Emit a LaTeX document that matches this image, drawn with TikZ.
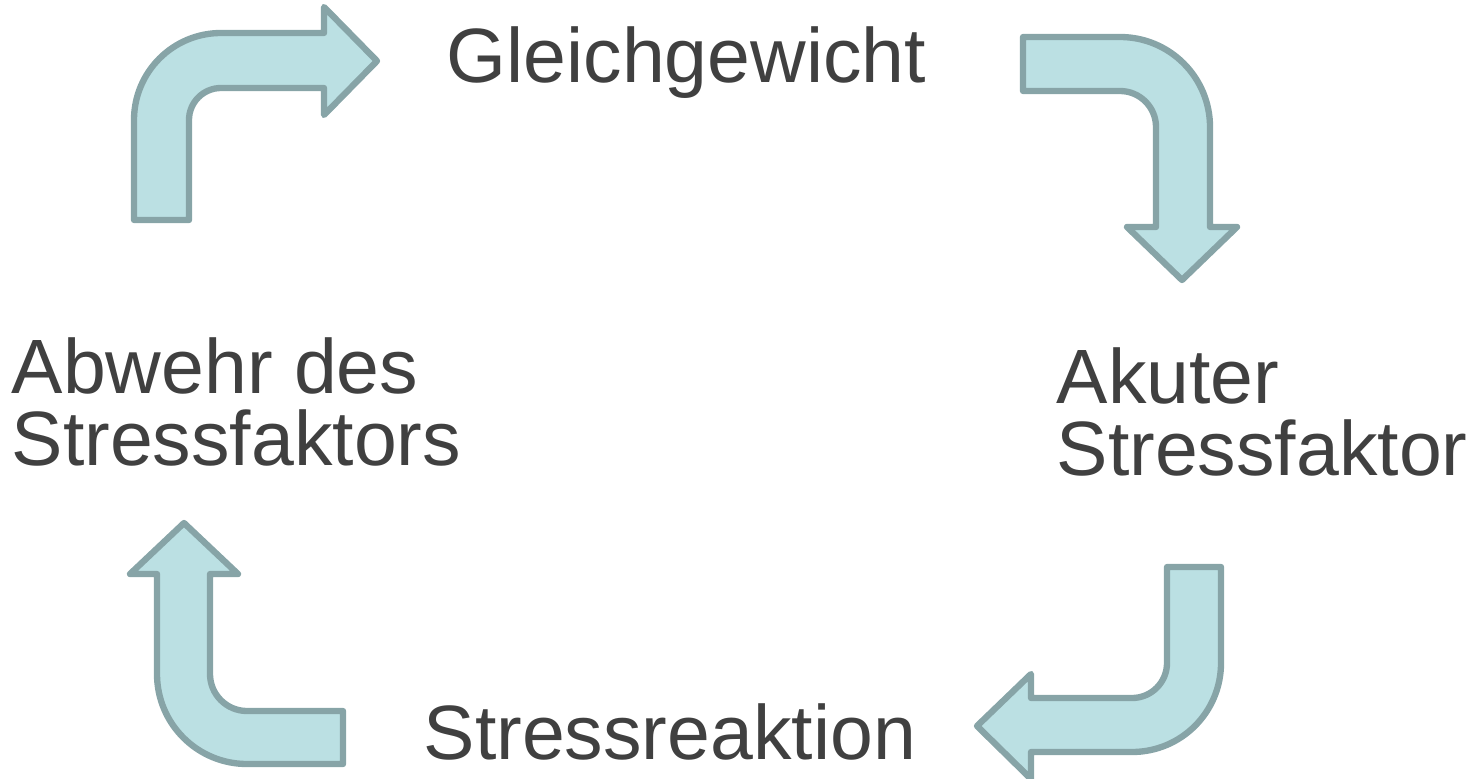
\documentclass[tikz,border=0pt]{standalone}
\usepackage{fontspec}
\setmainfont{Liberation Sans}
\usepackage{tikz}

\definecolor{arrowfill}{HTML}{BBE0E3}
\definecolor{arrowline}{HTML}{87A4A7}
\definecolor{textgray}{HTML}{404040}

\tikzset{
  bentarrow/.style={fill=arrowfill, draw=arrowline, line width=1.8pt, line join=round},
  phase/.style={text=textgray, inner sep=0pt, anchor=base west, align=left,
                font=\fontsize{21.9pt}{20.3pt}\selectfont}
}

\begin{document}
\begin{tikzpicture}[x=0.01cm, y=-0.01cm]

\useasboundingbox (0,0) rectangle (1482,779);

%% phases (base = last line)
\node[phase] (gleich) at (446,83)  {Gleichgewicht};
\node[phase] (akut)   at (1056,475) {Akuter\\Stressfaktor};
\node[phase] (reakt)  at (423,759) {Stressreaktion};
\node[phase] (abwehr) at (11,465)  {Abwehr des\\Stressfaktors};

%% arrows
\draw[bentarrow] (134,220) -- (134,120) arc[start angle=180, end angle=270, radius=87]
  -- (324,33) -- (324,7) -- (377,61) -- (324,115) -- (324,88)
  -- (221,88) arc[start angle=270, end angle=180, radius=32] -- (189,220) -- cycle;   %% abwehr -> gleich
\draw[bentarrow] (1023,37) -- (1120,37) arc[start angle=270, end angle=360, radius=90]
  -- (1210,227) -- (1237,227) -- (1182,280) -- (1127,227) -- (1156,227)
  -- (1156,127) arc[start angle=0, end angle=-90, radius=36] -- (1023,91) -- cycle;  %% gleich -> akut
\draw[bentarrow] (1221,567) -- (1221,663) arc[start angle=0, end angle=90, radius=89]
  -- (1031,752) -- (1031,779) -- (977,726) -- (1031,674) -- (1031,698)
  -- (1132,698) arc[start angle=90, end angle=0, radius=35] -- (1167,567) -- cycle;  %% akut -> reakt
\draw[bentarrow] (343,711) -- (247,711) arc[start angle=90, end angle=180, radius=37]
  -- (210,574) -- (238,574) -- (184,523) -- (130,574) -- (157,574)
  -- (157,674) arc[start angle=180, end angle=90, radius=90] -- (343,764) -- cycle;  %% reakt -> abwehr

\end{tikzpicture}
\end{document}
